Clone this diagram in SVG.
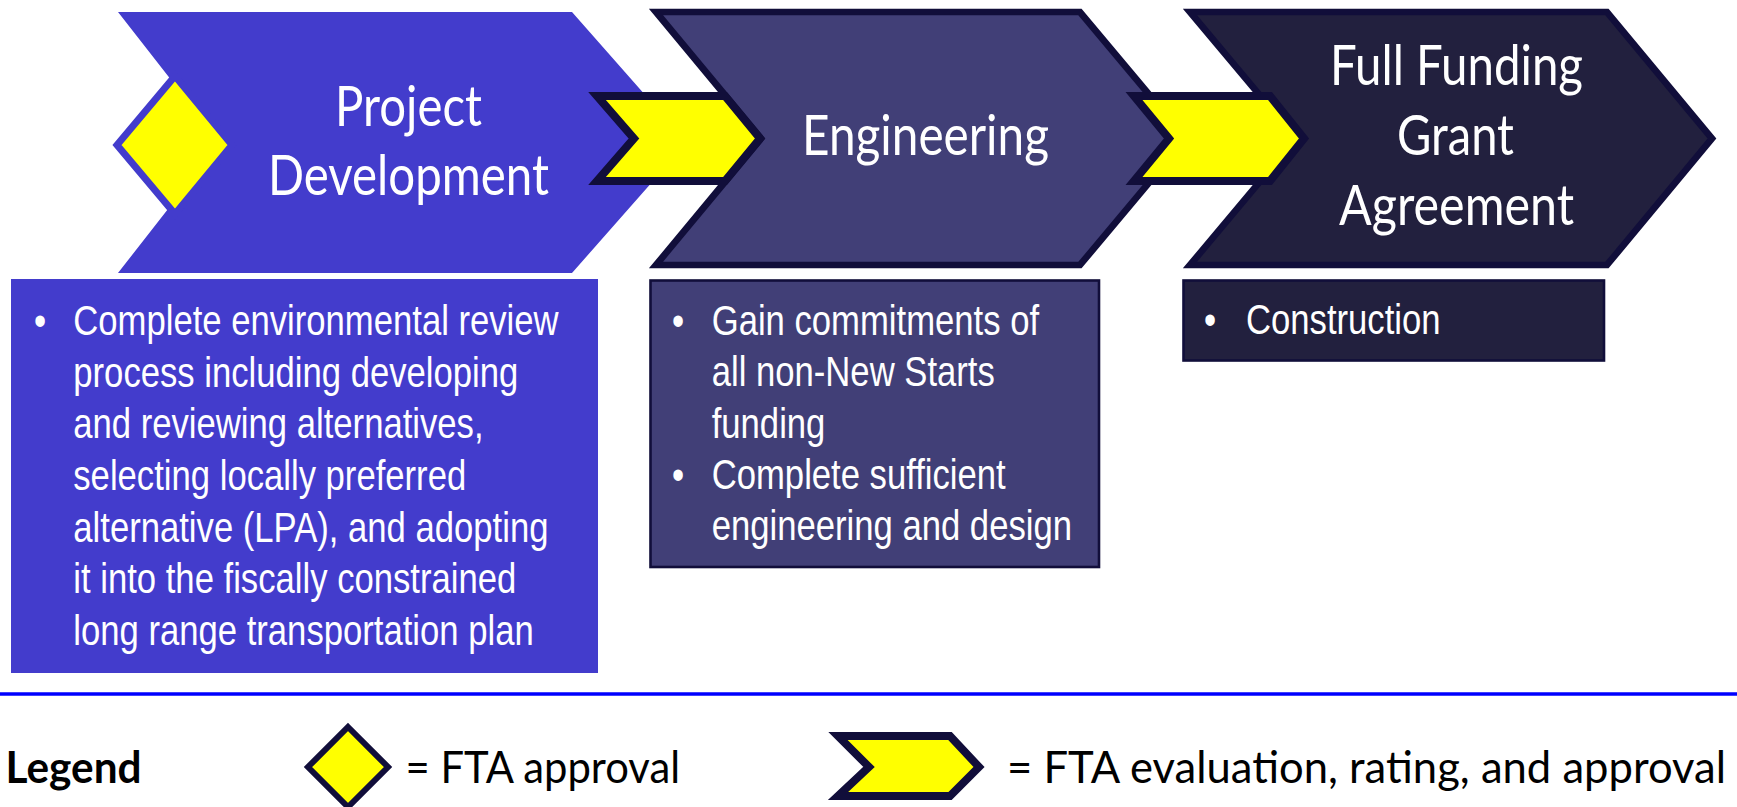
<svg xmlns="http://www.w3.org/2000/svg" width="1737" height="807" viewBox="0 0 1737 807">
<style>
.pd{fill:#433ccc}
.en{fill:#413f77;stroke:#110e3a;stroke-width:6.7;stroke-miterlimit:10}
.ff{fill:#22203e;stroke:#110e3a;stroke-width:6.7;stroke-miterlimit:10}
.gate{fill:#ffff00;stroke:#110e3a;stroke-width:8;stroke-miterlimit:10}
.title{font-family:Lato,"Noto Sans","Liberation Sans",sans-serif;font-size:56px;fill:#ffffff}
.body{font-family:"Liberation Sans",Arial,sans-serif;font-size:42px;fill:#ffffff}
.lg{font-family:Lato,"Noto Sans","Liberation Sans",sans-serif;font-size:44px;fill:#000000}
</style>
<rect x="0" y="0" width="1737" height="807" fill="#ffffff"/>

<g id="project-development">
  <polygon class="pd" points="118,12 572,12 687,142.5 572,273 118,273 220,142.5"/>
  <text class="title" x="335" y="126" textLength="147" lengthAdjust="spacingAndGlyphs">Project</text>
  <text class="title" x="268" y="195" textLength="281" lengthAdjust="spacingAndGlyphs">Development</text>
</g>

<g id="fta-approval-gate">
  <polygon points="175,76 232,145 175,214 117,145" fill="#ffff00" stroke="#433ccc" stroke-width="7"/>
</g>

<g id="engineering">
  <polygon class="en" points="656,12 1080,12 1186,138.5 1080,265 656,265 761,138.5"/>
  <text class="title" x="802" y="155" textLength="247" lengthAdjust="spacingAndGlyphs">Engineering</text>
</g>

<g id="full-funding-grant-agreement">
  <polygon class="ff" points="1190,12 1607,12 1712,138.5 1607,265 1190,265 1296,138.5"/>
  <text class="title" x="1330" y="85" textLength="253" lengthAdjust="spacingAndGlyphs">Full Funding</text>
  <text class="title" x="1397" y="155" textLength="117" lengthAdjust="spacingAndGlyphs">Grant</text>
  <text class="title" x="1339" y="225" textLength="235" lengthAdjust="spacingAndGlyphs">Agreement</text>
</g>

<g id="connectors">
  <polygon class="gate" points="597,96 725,96 760,138.5 725,181 597,181 634,138.5"/>
  <polygon class="gate" points="1134,96 1270,96 1304,138.5 1270,181 1134,181 1169,138.5"/>
</g>

<g id="pd-details">
  <rect x="11" y="279" width="587" height="394" fill="#433ccc"/>
  <g transform="translate(73.3 0) scale(0.825 1)">
    <text class="body" x="-47.6" y="335">•</text>
    <text class="body" x="0" y="335">Complete environmental review</text>
    <text class="body" x="0" y="386.7">process including developing</text>
    <text class="body" x="0" y="438.3">and reviewing alternatives,</text>
    <text class="body" x="0" y="490">selecting locally preferred</text>
    <text class="body" x="0" y="541.7">alternative (LPA), and adopting</text>
    <text class="body" x="0" y="593.3">it into the fiscally constrained</text>
    <text class="body" x="0" y="645">long range transportation plan</text>
  </g>
</g>

<g id="engineering-details">
  <rect x="650.5" y="280.5" width="448.5" height="286.5" fill="#413f77" stroke="#110e3a" stroke-width="2.6"/>
  <g transform="translate(711.7 0) scale(0.825 1)">
    <text class="body" x="-48.1" y="335">•</text>
    <text class="body" x="0" y="335">Gain commitments of</text>
    <text class="body" x="0" y="386.3">all non-New Starts</text>
    <text class="body" x="0" y="437.6">funding</text>
    <text class="body" x="-48.1" y="488.9">•</text>
    <text class="body" x="0" y="488.9">Complete sufficient</text>
    <text class="body" x="0" y="540.2">engineering and design</text>
  </g>
</g>

<g id="ffga-details">
  <rect x="1183.5" y="280.5" width="420.5" height="80" fill="#22203e" stroke="#110e3a" stroke-width="2.6"/>
  <g transform="translate(1246 0) scale(0.825 1)">
    <text class="body" x="-50.9" y="334">•</text>
    <text class="body" x="0" y="334">Construction</text>
  </g>
</g>

<g id="divider">
  <line x1="0" y1="694" x2="1737" y2="694" stroke="#0000ff" stroke-width="3.5"/>
</g>

<g id="legend">
  <text class="lg" x="5.6" y="783" font-weight="bold" textLength="136" lengthAdjust="spacingAndGlyphs">Legend</text>
  <polygon points="348,727 388,767 348,807 308,767" fill="#ffff00" stroke="#110e3a" stroke-width="6"/>
  <text class="lg" x="405.5" y="783" textLength="274.5" lengthAdjust="spacingAndGlyphs">= FTA approval</text>
  <polygon class="gate" points="838,736 950,736 979,767 950,796 838,796 869,767"/>
  <text class="lg" x="1007" y="783" textLength="719" lengthAdjust="spacingAndGlyphs">= FTA evaluation, rating, and approval</text>
</g>
</svg>
